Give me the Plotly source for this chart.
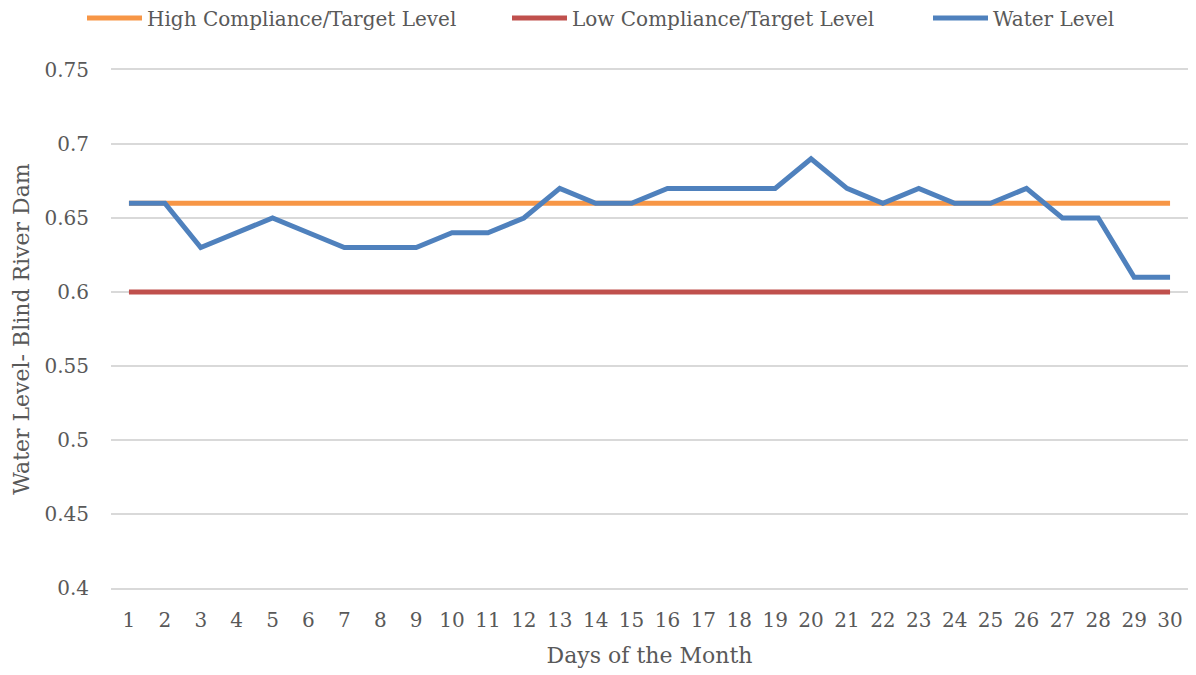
import plotly.graph_objects as go

days = [str(d) for d in range(1, 31)]
water_level = [0.66, 0.66, 0.63, 0.64, 0.65, 0.64, 0.63, 0.63, 0.63, 0.64,
               0.64, 0.65, 0.67, 0.66, 0.66, 0.67, 0.67, 0.67, 0.67, 0.69,
               0.67, 0.66, 0.67, 0.66, 0.66, 0.67, 0.65, 0.65, 0.61, 0.61]
high_target = [0.66] * 30
low_target = [0.60] * 30
y_ticks = [0.4, 0.45, 0.5, 0.55, 0.6, 0.65, 0.7, 0.75]
y_tick_labels = ["0.4", "0.45", "0.5", "0.55", "0.6", "0.65", "0.7", "0.75"]

FONT = "DejaVu Serif, Liberation Serif, serif"
TXT = "#595959"
GRID = "#D9D9D9"
FS = 20
TFS = 22

fig = go.Figure()
fig.add_trace(go.Scatter(x=days, y=high_target, mode="lines",
                         name="High Compliance/Target Level", legend="legend",
                         line=dict(color="#F79646", width=5)))
fig.add_trace(go.Scatter(x=days, y=low_target, mode="lines",
                         name="Low Compliance/Target Level", legend="legend2",
                         line=dict(color="#C0504D", width=5)))
fig.add_trace(go.Scatter(x=days, y=water_level, mode="lines",
                         name="Water Level", legend="legend3",
                         line=dict(color="#4F81BD", width=5)))

def leg(xpx):
    return dict(orientation="h", xref="container", yref="container",
                x=(xpx - 14) / 1196, y=1 - 10 / 675,
                xanchor="left", yanchor="middle",
                font=dict(family=FONT, size=FS, color=TXT),
                itemwidth=55, bgcolor="rgba(0,0,0,0)")

fig.update_layout(
    width=1196, height=675,
    paper_bgcolor="white", plot_bgcolor="white",
    margin=dict(l=103, r=16, t=62, b=95, autoexpand=False),
    font=dict(family=FONT, size=FS, color=TXT),
    showlegend=True,
    legend=leg(88), legend2=leg(513), legend3=leg(934),
    xaxis=dict(type="category", range=[-0.5, 29.5],
               showgrid=False, zeroline=False,
               showline=True, linecolor=GRID, linewidth=1.5, mirror=True,
               ticks="outside", ticklen=13, tickcolor="rgba(0,0,0,0)",
               tickfont=dict(family=FONT, size=FS, color=TXT),
               title=dict(text="Days of the Month", standoff=17,
                          font=dict(family=FONT, size=TFS, color=TXT))),
    yaxis=dict(range=[0.4, 0.75], tickvals=y_ticks, ticktext=y_tick_labels,
               showgrid=True, gridcolor=GRID, gridwidth=1.5,
               zeroline=False, showline=False,
               ticks="outside", ticklen=17, tickcolor="rgba(0,0,0,0)",
               tickfont=dict(family=FONT, size=FS, color=TXT),
               title=dict(text="Water Level- Blind River Dam", standoff=8,
                          font=dict(family=FONT, size=TFS, color=TXT))),
)

fig.write_html("out.html")
